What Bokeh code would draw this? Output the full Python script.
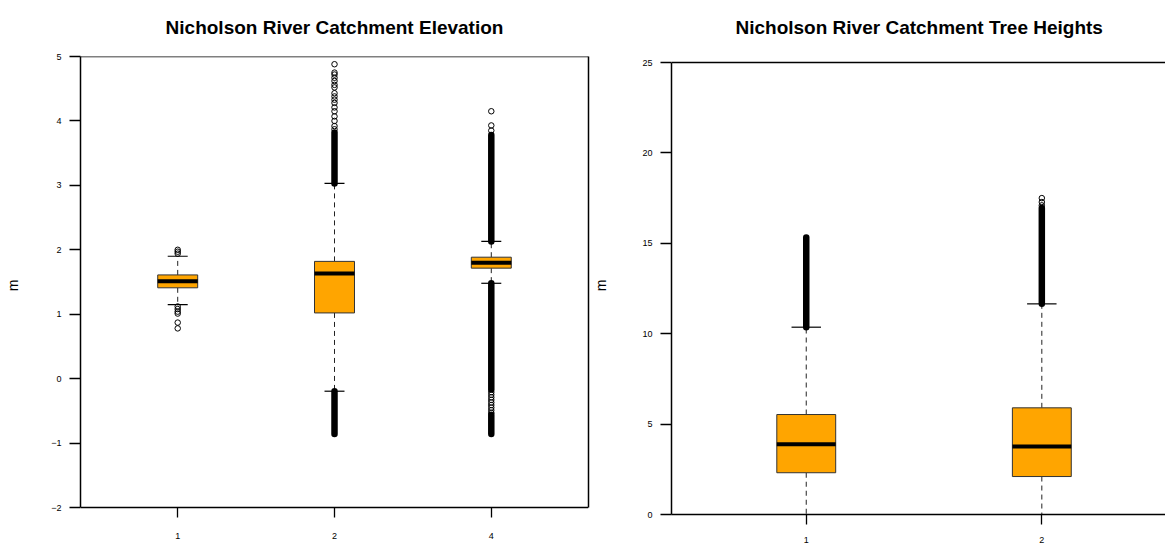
from bokeh.plotting import figure
from bokeh.models import Range1d, FixedTicker, Span, LinearAxis
from bokeh.layouts import row
from bokeh.embed import file_html
from bokeh.resources import INLINE

# ---------------- data: elevation ----------------
elev_title = "Nicholson River Catchment Elevation"
elev_categories = ["1", "2", "4"]
elev_q1 = [1.41, 1.02, 1.715]
elev_median = [1.51, 1.63, 1.80]
elev_q3 = [1.61, 1.82, 1.885]
elev_whisker_lo = [1.15, -0.195, 1.48]
elev_whisker_hi = [1.90, 3.03, 2.13]
# individual outliers
elev_outliers_1 = [1.94, 1.97, 2.00, 1.12, 1.08, 1.04, 1.01, 0.87, 0.78]
elev_outliers_2 = [4.88, 4.75, 4.72, 4.67, 4.62, 4.56, 4.52, 4.43, 4.38, 4.33,
                   4.28, 4.21, 4.15, 4.07, 4.00, 3.92, 3.87]
elev_outliers_4 = [4.15, 3.93, 3.85, -0.21, -0.25, -0.29, -0.33, -0.37, -0.41,
                   -0.45, -0.49, -0.53]
# runs of overlapping outliers (solid black), as (low, high)
elev_dense_1 = []
elev_dense_2 = [(3.03, 3.82), (-0.86, -0.195)]
elev_dense_4 = [(2.13, 3.78), (-0.17, 1.48), (-0.86, -0.56)]
elev_yticks = [-2, -1, 0, 1, 2, 3, 4, 5]

# ---------------- data: tree heights ----------------
tree_title = "Nicholson River Catchment Tree Heights"
tree_categories = ["1", "2"]
tree_q1 = [2.31, 2.10]
tree_median = [3.89, 3.76]
tree_q3 = [5.53, 5.90]
tree_whisker_lo = [0.0, 0.0]
tree_whisker_hi = [10.36, 11.65]
tree_outliers_1 = []
tree_outliers_2 = [17.50, 17.28, 17.10]
tree_dense_1 = [(10.36, 15.32)]
tree_dense_2 = [(11.65, 16.95)]
tree_yticks = [0, 5, 10, 15, 20, 25]

FONT = "Liberation Sans"
ORANGE = "#FFA500"
H = 547
FRAME_TOP = 56
FRAME_BOTTOM = 514


def style(p, yticks, xpos, cats, title_text, title_gap, align, offset):
    p.xgrid.visible = False
    p.ygrid.visible = False
    p.background_fill_color = "white"
    p.border_fill_color = "white"
    p.outline_line_color = None
    p.title.text = title_text
    p.title.text_font = FONT
    p.title.text_font_size = "19px"
    p.title.text_font_style = "bold"
    p.title.text_color = "black"
    p.title.vertical_align = "top"
    p.title.standoff = title_gap
    p.title.align = align
    p.title.offset = offset
    for ax in (p.xaxis[0], p.yaxis[0]):
        ax.axis_line_color = "black"
        ax.axis_line_width = 1.5
        ax.major_tick_line_color = "black"
        ax.major_tick_line_width = 1.3
        ax.major_tick_in = 0
        ax.minor_tick_line_color = None
        ax.major_label_text_font = FONT
        ax.major_label_text_font_size = "9px"
        ax.major_label_text_color = "black"
    p.yaxis.ticker = FixedTicker(ticks=yticks)
    p.yaxis.bounds = (min(yticks), max(yticks))
    p.yaxis.major_tick_out = 11
    p.yaxis.major_label_standoff = 8
    p.yaxis.axis_label = "m"
    p.yaxis.axis_label_text_font = FONT
    p.yaxis.axis_label_text_font_size = "14px"
    p.yaxis.axis_label_text_font_style = "normal"
    p.yaxis.axis_label_text_color = "black"
    p.xaxis.ticker = FixedTicker(ticks=xpos)
    p.xaxis.major_label_overrides = {x: c for x, c in zip(xpos, cats)}
    p.xaxis.major_tick_out = 10
    p.add_layout(Span(location=max(yticks), dimension="width", line_color="black",
                      line_width=1.5))


def draw_boxes(p, xpos, q1, med, q3, lo, hi, outliers, dense, w):
    # whiskers
    p.segment(x0=xpos, y0=q3, x1=xpos, y1=hi, line_color="#222222",
              line_width=1, line_dash="5 4")
    p.segment(x0=xpos, y0=q1, x1=xpos, y1=lo, line_color="#222222",
              line_width=1, line_dash="5 4")
    # staples
    cw = w / 4
    p.segment(x0=[x - cw for x in xpos], y0=hi, x1=[x + cw for x in xpos], y1=hi,
              line_color="black", line_width=1.2)
    p.segment(x0=[x - cw for x in xpos], y0=lo, x1=[x + cw for x in xpos], y1=lo,
              line_color="black", line_width=1.2)
    # boxes
    p.quad(left=[x - w / 2 for x in xpos], right=[x + w / 2 for x in xpos],
           bottom=q1, top=q3, fill_color=ORANGE, line_color="#333333", line_width=1)
    # medians
    p.segment(x0=[x - w / 2 for x in xpos], y0=med, x1=[x + w / 2 for x in xpos], y1=med,
              line_color="black", line_width=4)
    # dense outlier runs
    dx0, dy0, dy1 = [], [], []
    for x, runs in zip(xpos, dense):
        for lo_, hi_ in runs:
            dx0.append(x)
            dy0.append(lo_)
            dy1.append(hi_)
    if dx0:
        p.segment(x0=dx0, y0=dy0, x1=dx0, y1=dy1, line_color="black",
                  line_width=6.5, line_cap="round")
    # single outliers
    ox, oy = [], []
    for x, vals in zip(xpos, outliers):
        for v in vals:
            ox.append(x)
            oy.append(v)
    if ox:
        p.scatter(x=ox, y=oy, marker="circle", size=5.5, line_color="black",
                  line_width=1, fill_color=None)


# ---------------- left figure ----------------
# value axis: 5 at y=56 px, -2 at y=507 px; the frame runs down to 514 px
elev_px_per_unit = (507 - 56) / 7.0
elev_bottom_gap = FRAME_BOTTOM - 507
elev_ystart = -2 - elev_bottom_gap / elev_px_per_unit
elev_x = [i + 1 for i in range(len(elev_categories))]
p1 = figure(width=590, height=H, x_range=Range1d(0.38, 3.62),
            y_range=Range1d(elev_ystart, 5),
            output_backend="svg", toolbar_location=None,
            min_border_left=80, min_border_right=2, min_border_top=FRAME_TOP,
            min_border_bottom=H - FRAME_BOTTOM)
style(p1, elev_yticks, elev_x, elev_categories, elev_title, 33, "center", 0)
p1.yaxis.axis_label_standoff = 27
# bottom axis: line drawn at y = -2, ticks reach from there downwards
p1.xaxis.axis_line_color = None
p1.xaxis.major_tick_in = elev_bottom_gap
p1.xaxis.major_tick_out = 3
p1.xaxis.major_label_standoff = 15
p1.add_layout(Span(location=-2, dimension="width", line_color="black", line_width=1.5))
right_border = LinearAxis(ticker=FixedTicker(ticks=[]), bounds=(-2, 5),
                          axis_line_color="black", axis_line_width=1.5,
                          major_tick_out=0, major_tick_in=0, minor_tick_line_color=None,
                          major_label_standoff=0)
p1.add_layout(right_border, "right")
draw_boxes(p1, elev_x, elev_q1, elev_median, elev_q3, elev_whisker_lo, elev_whisker_hi,
           [elev_outliers_1, elev_outliers_2, elev_outliers_4],
           [elev_dense_1, elev_dense_2, elev_dense_4], 0.255)

# ---------------- right figure ----------------
# value axis: 25 at y=62 px, 0 at y=514 px
tree_px_per_unit = (514 - 62) / 25.0
tree_yend = 25 + (62 - FRAME_TOP) / tree_px_per_unit
tree_x = [i + 1 for i in range(len(tree_categories))]
p2 = figure(width=575, height=H, x_range=Range1d(0.428, 2.525),
            y_range=Range1d(0, tree_yend),
            output_backend="svg", toolbar_location=None,
            min_border_left=80, min_border_right=0, min_border_top=FRAME_TOP,
            min_border_bottom=H - FRAME_BOTTOM)
style(p2, tree_yticks, tree_x, tree_categories, tree_title, 33, "left", 64)
p2.yaxis.axis_label_standoff = 30
p2.xaxis.major_label_standoff = 12
draw_boxes(p2, tree_x, tree_q1, tree_median, tree_q3, tree_whisker_lo, tree_whisker_hi,
           [tree_outliers_1, tree_outliers_2], [tree_dense_1, tree_dense_2], 0.25)

layout = row(p1, p2)
open("out.html", "w").write(file_html(layout, INLINE))
